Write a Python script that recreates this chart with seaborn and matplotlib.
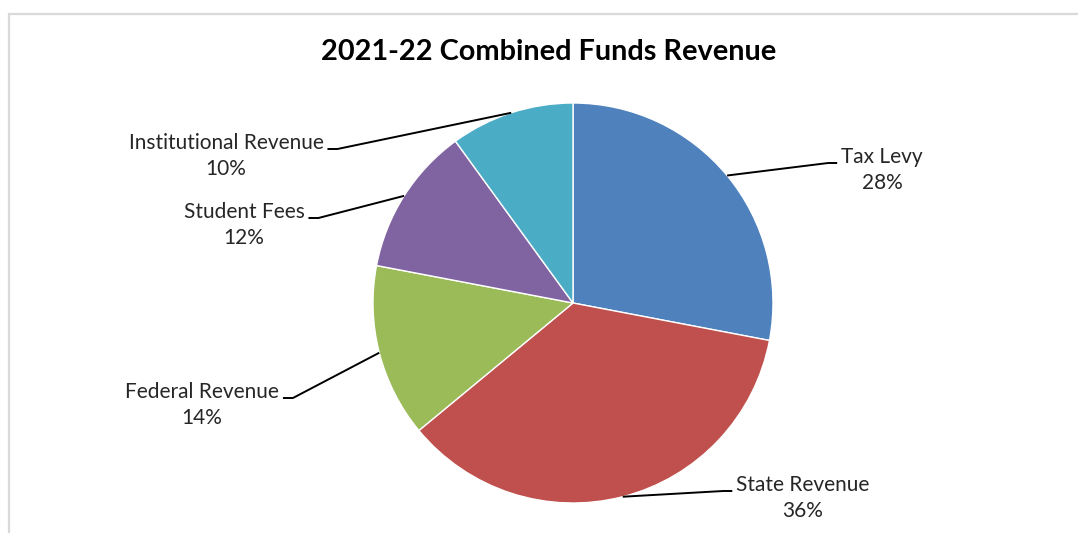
import matplotlib
matplotlib.use("Agg")
import matplotlib.pyplot as plt
from matplotlib.patches import Rectangle
import numpy as np
import seaborn as sns

# Revenue shares by source (percent), clockwise from 12 o'clock
categories = ["Tax Levy", "State Revenue", "Federal Revenue", "Student Fees", "Institutional Revenue"]
shares = [28, 36, 14, 12, 10]
colors = ["#4F81BD", "#C0504D", "#9BBB59", "#8064A2", "#4BACC6"]
title = "2021-22 Combined Funds Revenue"

# Label block centres in pie units (radius = 1)
label_pos = [(1.545, 0.665), (1.15, -0.975), (-1.855, -0.51), (-1.645, 0.39), (-1.735, 0.735)]

sns.set_theme(style="white")
plt.rcParams["font.family"] = ["Lato", "DejaVu Sans"]

W, H, DPI = 1078, 533, 100
fig = plt.figure(figsize=(W / DPI, H / DPI), dpi=DPI)
fig.patch.set_facecolor("white")

# Chart frame (open towards the right and bottom edges)
fig.add_artist(Rectangle((9 / W, -0.1), 1.2, (H - 14) / H + 0.1, transform=fig.transFigure,
                         fill=False, ec="#d9d9d9", lw=1.6))

cx, cy, r = 573, 303, 200
ax = fig.add_axes([(cx - r) / W, (H - cy - r) / H, 2 * r / W, 2 * r / H])

wedges, _ = ax.pie(shares, colors=colors, startangle=90, counterclock=False, radius=1,
                   wedgeprops=dict(edgecolor="white", linewidth=1.0))
ax.set_xlim(-1, 1)
ax.set_ylim(-1, 1)
ax.set_aspect("equal")
ax.axis("off")
for w in wedges:
    w.set_clip_on(False)

fig.text(549 / W, 1 - 52 / H, title, ha="center", va="center", fontsize=20.8,
         fontweight="bold", color="black")

texts = []
for name, val, (tx, ty) in zip(categories, shares, label_pos):
    t = ax.text(tx, ty, f"{name}\n{val}%", ha="center", va="center", fontsize=15,
                color="#262626", linespacing=1.4, clip_on=False)
    texts.append(t)

fig.canvas.draw()
renderer = fig.canvas.get_renderer()
inv = ax.transData.inverted()
px = 1.0 / r  # one pixel in pie units

for w, t, (tx, ty) in zip(wedges, texts, label_pos):
    mid = np.deg2rad((w.theta1 + w.theta2) / 2)
    sx, sy = np.cos(mid), np.sin(mid)
    bb = t.get_window_extent(renderer)
    (x0, _), (x1, _) = inv.transform([(bb.x0, bb.y0), (bb.x1, bb.y1)])
    ey = ty + 7 * px
    if tx > 0:
        ex_end = x0 - 4 * px
        ex_elb = ex_end - 9 * px
    else:
        ex_end = x1 + 4 * px
        ex_elb = ex_end + 10 * px
    ax.plot([sx, ex_elb, ex_end], [sy, ey, ey], color="black", lw=1.4, clip_on=False,
            solid_capstyle="butt")

fig.savefig("out.png", dpi=DPI, facecolor="white")
